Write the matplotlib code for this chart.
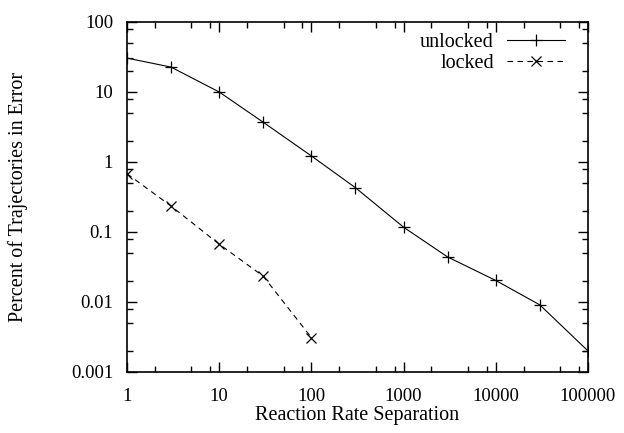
import numpy as np
from matplotlib import pyplot as plt
from matplotlib.ticker import LogLocator, NullFormatter, FixedLocator

# reaction rate separation values
sep_unlocked = [1, 3, 10, 30, 100, 300, 1000, 3000, 10000, 30000, 100000]
err_unlocked = [30.5, 22.7, 10.0, 3.7, 1.22, 0.43, 0.117, 0.044, 0.0203, 0.0091, 0.002]

sep_locked = [1, 3, 10, 30, 100]
err_locked = [0.68, 0.235, 0.067, 0.0234, 0.0031]

xticks = [1, 10, 100, 1000, 10000, 100000]
xticklabels = ["1", "10", "100", "1000", "10000", "100000"]
yticks = [0.001, 0.01, 0.1, 1, 10, 100]
yticklabels = ["0.001", "0.01", "0.1", "1", "10", "100"]

plt.rcParams['font.family'] = ['Liberation Serif', 'DejaVu Serif']
plt.rcParams['font.size'] = 13.5

fig = plt.figure(figsize=(6.24, 4.33), dpi=100)
ax = fig.add_axes([127 / 624, 1 - 372 / 433, (588 - 127) / 624, (372 - 22) / 433])

ax.plot(sep_unlocked, err_unlocked, color='black', lw=0.8, marker='+',
        markersize=8, markeredgewidth=0.9, label='unlocked')
ax.plot(sep_locked, err_locked, color='black', lw=0.8, linestyle=(0, (5, 4)),
        marker='x', markersize=7, markeredgewidth=0.9, label='locked')

ax.set_xscale('log')
ax.set_yscale('log')
ax.set_xlim(1, 100000)
ax.set_ylim(0.001, 100)

ax.xaxis.set_major_locator(FixedLocator(xticks))
ax.set_xticklabels(xticklabels)
ax.yaxis.set_major_locator(FixedLocator(yticks))
ax.set_yticklabels(yticklabels)
ax.xaxis.set_minor_locator(LogLocator(base=10, subs=[2, 5, 8]))
ax.yaxis.set_minor_locator(LogLocator(base=10, subs=[2, 5, 8]))
ax.xaxis.set_minor_formatter(NullFormatter())
ax.yaxis.set_minor_formatter(NullFormatter())

ax.tick_params(which='both', direction='in', top=True, right=True, width=1.0)
ax.tick_params(which='major', length=7)
ax.tick_params(axis='x', which='major', pad=11.5)
ax.tick_params(axis='y', which='major', pad=10)
ax.tick_params(which='minor', length=4)
for s in ax.spines.values():
    s.set_linewidth(1.2)

ax.set_xlabel("Reaction Rate Separation", fontsize=14.5, labelpad=1)
ax.set_ylabel("Percent of Trajectories in Error", fontsize=14.5, labelpad=31)

ax.legend(loc='upper right', frameon=False, markerfirst=False, fontsize=14.5,
          handlelength=2.9, handletextpad=0.65, labelspacing=0.05,
          borderaxespad=0.2, bbox_to_anchor=(0.977, 1.002))

plt.savefig('out.png', dpi=100)
